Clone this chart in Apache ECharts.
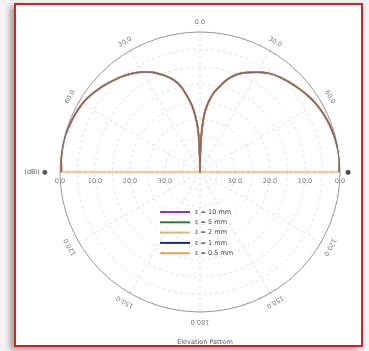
<!DOCTYPE html>
<html>
<head>
<meta charset="utf-8">
<script src="https://cdn.jsdelivr.net/npm/echarts@6/dist/echarts.min.js"></script>
<style>
  html, body { margin: 0; padding: 0; background: #f3f3f3; }
  #frame {
    position: absolute; left: 14px; top: 3px; width: 345px; height: 340px;
    border: 2px solid #d3202a; background: #ffffff;
    box-shadow: -4px 3px 6px rgba(0,0,0,0.35);
  }
  #chart { position: absolute; left: 0; top: 0; width: 369px; height: 351px; }
</style>
</head>
<body>
<div id="frame"></div>
<div id="chart"></div>
<script>
// Elevation cut, theta measured clockwise from zenith (degrees), gain in dB
const leftTheta = [-90, -85, -80, -75, -70, -65, -60, -55, -50, -45, -40, -35, -30, -25, -20, -16, -13, -10, -7, -5, -4, -3, -2, -1, 0];
const leftGain  = [-0.4, -0.2, -0.1, -0.1, -0.4, -0.7, -1.1, -1.8, -2.7, -3.7, -4.6, -5.7, -7.0, -8.6, -10.7, -12.6, -14.6, -17.6, -20.8, -23.6, -25.3, -27.2, -30.1, -35.5, -40];
const rightTheta = [1, 2, 3, 4, 5, 7, 10, 13, 16, 20, 25, 30, 35, 40, 45, 50, 55, 60, 65, 70, 75, 80, 85, 90];
const rightGain  = [-35.0, -29.8, -26.8, -24.0, -22.3, -19.8, -16.9, -14.9, -12.7, -10.5, -8.6, -7.1, -5.6, -4.6, -3.8, -3.0, -2.2, -1.5, -1.0, -0.6, -0.3, -0.1, 0, -0.2];

const seriesNames  = ['ε = 10 mm', 'ε = 5 mm', 'ε = 2 mm', 'ε = 1 mm', 'ε = 0.5 mm'];
const seriesColors = ['#8e35c9', '#2f7a34', '#c9c27c', '#1f2a86', '#f0a050'];

const radiusTicks = [0, -10, -20, -30];
const angleTicks  = [0, 30, 60, 120, 150, 180, -150, -120, -60, -30];
const angleTickLabels = ['0.0', '30.0', '60.0', '120.0', '150.0', '180.0', '150.0', '120.0', '60.0', '30.0'];

const R_MIN = -40, R_MAX = 0;
// theta (clockwise from top) -> angle axis value (startAngle 0 = right, clockwise)
const toAxis = t => t + 270;

const thetaAll = leftTheta.concat(rightTheta);
const gainAll = leftGain.concat(rightGain);
const curve = thetaAll.map((t, i) => [gainAll[i], toAxis(t)]);
// the last trace closes through the centre back to the left horizon
const closedCurve = curve.concat([[R_MIN, toAxis(90)], [gainAll[0], toAxis(-90)]]);

const labelFont = { fontFamily: 'DejaVu Sans', fontSize: 6.5, color: '#555' };

const angleLabelData = angleTicks.map((t, i) => ({
  value: [R_MAX, toAxis(t)],
  label: Object.assign({ formatter: angleTickLabels[i], rotate: -t, offset: [0, -10] }, labelFont)
}));
angleLabelData.push({
  value: [R_MAX, toAxis(-90)],
  label: Object.assign({ formatter: '(dBi) ●', rotate: 0, offset: [-24, 0] }, labelFont, { color: '#333' })
});
angleLabelData.push({
  value: [R_MAX, toAxis(90)],
  label: Object.assign({ formatter: '●', rotate: 0, offset: [8, 0] }, labelFont, { color: '#222' })
});

const radiusLabelData = [];
radiusTicks.forEach(v => {
  radiusLabelData.push({ value: [v, toAxis(-90)], label: Object.assign({ formatter: v.toFixed(1).replace('-', ''), offset: [0, 9] }, labelFont) });
  radiusLabelData.push({ value: [v, toAxis(90)],  label: Object.assign({ formatter: v.toFixed(1).replace('-', ''), offset: [0, 9] }, labelFont) });
});

const lineSeries = seriesNames.map((name, i) => {
  const isLast = i === seriesNames.length - 1;
  return {
    name: name,
    type: 'line',
    coordinateSystem: 'polar',
    symbol: 'none',
    smooth: 0.2,
    data: isLast ? closedCurve : curve,
    z: 3 + i,
    lineStyle: { color: seriesColors[i], width: isLast ? 2.6 : 1.5, opacity: isLast ? 0.5 : 1 },
    itemStyle: { color: seriesColors[i] }
  };
});

const chart = echarts.init(document.getElementById('chart'), null, { renderer: 'canvas' });
chart.setOption({
  animation: false,
  backgroundColor: 'transparent',
  title: {
    text: 'Elevation Pattern',
    left: 200, top: 334, textAlign: 'center',
    textStyle: { fontFamily: 'DejaVu Sans', fontSize: 6.5, fontWeight: 'normal', color: '#555' }
  },
  legend: {
    data: seriesNames.map(n => ({ name: n, icon: 'rect' })),
    orient: 'vertical',
    left: 160, top: 208, padding: 0,
    itemWidth: 30, itemHeight: 2, itemGap: 2.3,
    textStyle: { fontFamily: 'DejaVu Sans', fontSize: 6.5, color: '#444', lineHeight: 8 }
  },
  polar: { center: [200, 172], radius: 140 },
  angleAxis: {
    type: 'value', min: 0, max: 360, interval: 30, startAngle: 0, clockwise: true,
    axisLine: { lineStyle: { color: '#9a9a9a', width: 1 } },
    axisTick: { show: false },
    axisLabel: { show: false },
    splitLine: { lineStyle: { color: '#d6d6d6', type: [3, 3], width: 0.8 } }
  },
  radiusAxis: {
    type: 'value', min: R_MIN, max: R_MAX, interval: 5,
    axisLine: { show: false },
    axisTick: { show: false },
    axisLabel: { show: false },
    splitLine: { lineStyle: { color: '#dadada', type: [3, 3], width: 0.8 } }
  },
  series: lineSeries.concat([
    {
      type: 'scatter', coordinateSystem: 'polar', symbolSize: 0, silent: true, clip: false,
      label: { show: true, position: 'inside', align: 'center', verticalAlign: 'middle' },
      data: angleLabelData
    },
    {
      type: 'scatter', coordinateSystem: 'polar', symbolSize: 0, silent: true, clip: false,
      label: { show: true, position: 'inside', align: 'center', verticalAlign: 'middle' },
      data: radiusLabelData
    }
  ])
});
</script>
</body>
</html>
